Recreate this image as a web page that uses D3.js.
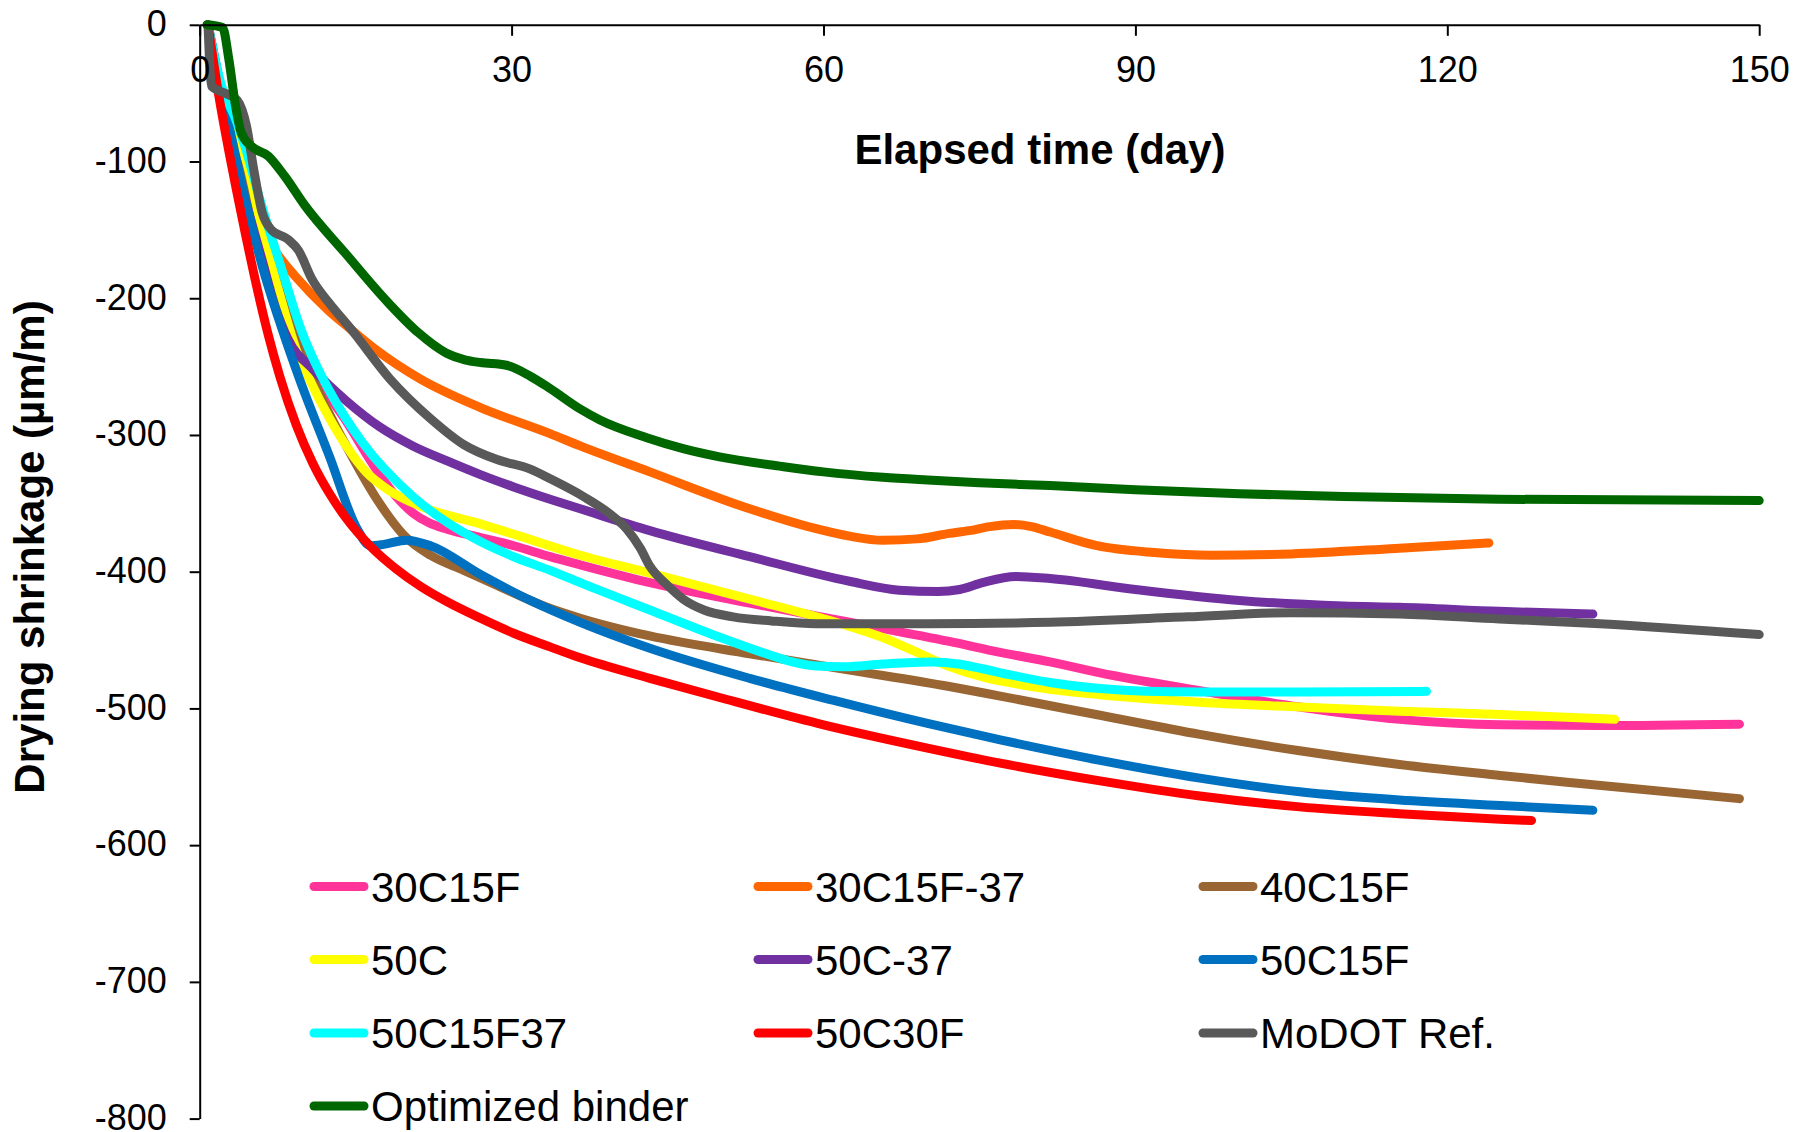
<!DOCTYPE html>
<html>
<head>
<meta charset="utf-8">
<script src="https://cdn.jsdelivr.net/npm/d3@7"></script>
<style>
  html, body { margin: 0; padding: 0; background: #fff; }
  svg { display: block; font-family: "Liberation Sans", Arial, sans-serif; }
</style>
</head>
<body>
<svg id="chart" width="1810" height="1132"></svg>
<script>
// ---------- DATA (day, drying shrinkage µm/m) ----------
const xTicks = [0, 30, 60, 90, 120, 150];
const yTicks = [0, -100, -200, -300, -400, -500, -600, -700, -800];
const xTitle = "Elapsed time (day)";
const yTitle = "Drying shrinkage (µm/m)";

const seriesNames = ["30C15F", "30C15F-37", "40C15F", "50C", "50C-37", "50C15F", "50C15F37", "50C30F", "MoDOT Ref.", "Optimized binder"];
const seriesColors = ["#FF3399", "#FF6600", "#996633", "#FFFF00", "#7030A0", "#0070C0", "#00FFFF", "#FF0000", "#595959", "#006600"];

const s30C15F = [[0.8,0],[2,-45],[3.5,-80],[4.5,-105],[6,-148],[7.6,-186],[9.5,-226],[10.9,-250],[12.5,-272],[14.1,-290],[16.7,-322],[18.9,-345],[20.5,-357],[22,-364],[23.8,-369],[27,-375],[30.2,-381],[33.7,-389],[36.6,-395],[43.3,-408],[52.9,-423],[62.5,-437],[72.1,-451],[77,-459],[81.8,-466],[86.6,-474],[96.2,-487],[105.8,-499],[115.4,-508],[125.1,-512],[134.7,-512.5],[148.1,-511.5]];
const s30C15F37 = [[0.8,0],[1.5,-40],[3,-62],[4.2,-82],[5.2,-128],[6.2,-152],[7.5,-168],[9.2,-184],[12.4,-209],[14.1,-220],[17,-238],[21.2,-259],[27,-280],[33.7,-299],[36.6,-308],[43.3,-327],[52.9,-354],[59,-368],[62.5,-374],[65.7,-377],[69,-376],[72.1,-372],[74,-370],[76,-367],[78.3,-365.5],[80,-367],[81.8,-371],[86.3,-381],[91.8,-386],[97.3,-388],[105,-387],[115,-383],[124,-379]];
const s40C15F = [[0.8,0],[2,-45],[3.5,-82],[4.5,-105],[6,-148],[8,-200],[10.9,-259],[14.1,-308],[17.3,-350],[19.6,-373],[22.2,-388],[25.4,-399],[28.6,-410],[33.4,-426],[36.6,-434],[43.3,-447],[52.9,-460],[62.5,-472],[72.1,-484],[77,-491],[86.6,-505],[96.2,-519],[105.8,-531],[115.4,-541],[125.1,-549],[131.5,-554],[148.1,-566]];
const s50C = [[0.8,0],[2,-45],[3.5,-78],[4.5,-100],[6,-150],[7.8,-200],[9.3,-238],[10.6,-260],[12.5,-288],[14.1,-308],[16,-327],[18.3,-341],[21.2,-352],[27,-365],[30.8,-374],[36.6,-388],[43.3,-401],[52.9,-420],[62.5,-440],[66,-449],[69,-459],[72,-469],[75.3,-477],[78.5,-482],[81.8,-486],[86.6,-490],[96.2,-495.5],[105.8,-499],[115.4,-502],[125.1,-504.5],[136.1,-508]];
const s50C37 = [[0.8,0],[1.5,-35],[2.1,-55],[3,-85],[4.4,-128],[6,-172],[7.3,-207],[8.5,-230],[10.9,-252],[12.5,-264],[14.1,-275],[17.3,-294],[20.5,-308],[23.8,-319],[27,-329],[30.2,-338],[33.7,-347],[36.6,-354],[43.3,-370],[52.9,-389],[62.5,-407],[67.3,-413.5],[71,-414.5],[73.1,-413],[75.3,-408],[78.5,-403.5],[81.8,-405],[90,-413],[100,-421],[110,-425],[115.4,-426],[125,-429],[134,-431]];
const s50C15F = [[0.8,0],[2,-45],[3,-80],[4.4,-128],[6,-176],[7.9,-222],[9.6,-259],[12.5,-316],[15.1,-368],[16.4,-381],[17.7,-380],[19.9,-377],[22.2,-381],[27,-402],[31.8,-421],[36.6,-437],[43.3,-456],[52.9,-478],[60.9,-494],[70,-511],[77,-523],[86.6,-538],[96.2,-551],[105.8,-561],[115.4,-567],[125.1,-571],[134,-574.5]];
const s50C15F37 = [[0.8,0],[2,-42],[3.5,-70],[4.4,-90],[5.8,-128],[7.9,-179],[9.8,-224],[11.6,-255],[12.5,-268],[15.7,-306],[20.5,-345],[24,-365],[27,-378],[30.5,-390],[33.7,-399],[36.6,-408],[43.3,-428],[49.7,-447],[54.5,-460],[57,-466],[59.3,-469],[62,-469.5],[65.7,-467.5],[70.5,-466],[73,-467.5],[75.3,-471],[78,-475.5],[81.8,-481],[86.6,-485.5],[91,-487.5],[96.2,-488],[105.8,-488],[118,-487.5]];
const s50C30F = [[0.8,0],[1.8,-50],[3.1,-104],[4.4,-153],[5.5,-192],[6.6,-227],[7.7,-257],[9.3,-293],[10.9,-321],[12.5,-343],[14.1,-361],[16.5,-382],[18.9,-398],[21.3,-411],[23.8,-422],[27,-434],[30.2,-445],[33.7,-455],[36.6,-463],[43.3,-478],[50,-492],[60,-512],[70,-529],[77,-540],[86.6,-553],[96.2,-564],[105.8,-572],[115.4,-577],[125.1,-581],[128.1,-582]];
const sMoDOT = [[0.8,0],[1.15,-45],[2.75,-51],[3.6,-55],[4.5,-74],[5.2,-106],[6.0,-137],[6.9,-150],[8.5,-157],[9.5,-165],[10.8,-186],[12.4,-203],[14.6,-223],[18.3,-259],[22.2,-288],[25.4,-307],[28.6,-318],[31.8,-325],[33.7,-332],[36.9,-345],[39.5,-358],[41.1,-369],[42.4,-383],[43.3,-396],[45,-410],[46.5,-420],[48.5,-428],[51.3,-433],[55,-436],[59.3,-438],[70,-438],[81.8,-437],[95,-433],[105,-430],[115.4,-431],[125,-434.6],[134.7,-438],[150,-446]];
const sOptimized = [[0.7,0],[2.2,-2],[2.8,-25],[3.4,-57],[4.0,-79],[5.0,-89],[6.6,-96],[8.2,-111],[10.1,-132],[14,-167],[18.1,-203],[21,-225],[23.7,-240],[25.5,-245],[27,-247],[29.5,-249],[31.8,-257],[33.7,-266],[36.6,-281],[38.5,-289],[43,-302],[46.5,-310],[50,-316],[56,-323],[60,-327],[65.7,-331],[70,-333],[75,-335],[81.8,-337],[90,-340],[100,-343],[110,-345],[125,-347],[150,-348]];

const seriesData = [s30C15F, s30C15F37, s40C15F, s50C, s50C37, s50C15F, s50C15F37, s50C30F, sMoDOT, sOptimized];

// ---------- DRAW ----------
const svg = d3.select("#chart");
const x = d3.scaleLinear().domain([0, 150]).range([199.7, 1759.2]);
const y = d3.scaleLinear().domain([0, -800]).range([24.8, 1118.6]);

// series lines
const line = d3.line().x(d => x(d[0])).y(d => y(d[1])).curve(d3.curveMonotoneX);
svg.append("g").selectAll("path").data(seriesData).join("path")
  .attr("d", d => line(d))
  .attr("fill", "none")
  .attr("stroke", (d, i) => seriesColors[i])
  .attr("stroke-width", 9)
  .attr("stroke-linecap", "round")
  .attr("stroke-linejoin", "round");

// x axis (at y = 0, top)
const xAxis = svg.append("g")
  .attr("transform", `translate(0,${y(0)})`)
  .call(d3.axisBottom(x).tickValues(xTicks).tickSize(11).tickSizeOuter(0).tickPadding(21).tickFormat(d => String(d)));
xAxis.select(".domain").attr("stroke", "#000").attr("stroke-width", 2);
xAxis.selectAll(".tick line").attr("stroke", "#000").attr("stroke-width", 2);
xAxis.selectAll(".tick text").attr("font-size", 36).attr("fill", "#000")
  .attr("font-family", "'Liberation Sans', Arial, sans-serif");

// y axis
const yAxis = svg.append("g")
  .attr("transform", `translate(${x(0)},0)`)
  .call(d3.axisLeft(y).tickValues(yTicks).tickSize(10).tickSizeOuter(0).tickPadding(23).tickFormat(d => String(d)));
yAxis.select(".domain").attr("stroke", "#000").attr("stroke-width", 2);
yAxis.selectAll(".tick line").attr("stroke", "#000").attr("stroke-width", 2);
yAxis.selectAll(".tick text").attr("font-size", 36).attr("fill", "#000")
  .attr("dy", "0.3em")
  .attr("font-family", "'Liberation Sans', Arial, sans-serif");

// axis titles
svg.append("text")
  .attr("x", 1040).attr("y", 164)
  .attr("text-anchor", "middle")
  .attr("font-size", 42).attr("font-weight", "bold")
  .text(xTitle);
svg.append("text")
  .attr("transform", "translate(44,547) rotate(-90)")
  .attr("text-anchor", "middle")
  .attr("font-size", 42).attr("font-weight", "bold")
  .text(yTitle);

// legend
const legendColX = [310, 754, 1199];
const legendRowY = [886.5, 959.5, 1033, 1106];
const legend = svg.append("g");
seriesNames.forEach((name, i) => {
  const col = i % 3, row = Math.floor(i / 3);
  const lx = legendColX[col], ly = legendRowY[row];
  legend.append("line")
    .attr("x1", lx + 4).attr("x2", lx + 54)
    .attr("y1", ly).attr("y2", ly)
    .attr("stroke", seriesColors[i]).attr("stroke-width", 9)
    .attr("stroke-linecap", "round");
  legend.append("text")
    .attr("x", lx + 61).attr("y", ly + 15)
    .attr("font-size", 42).attr("fill", "#000")
    .text(name);
});
</script>
</body>
</html>
